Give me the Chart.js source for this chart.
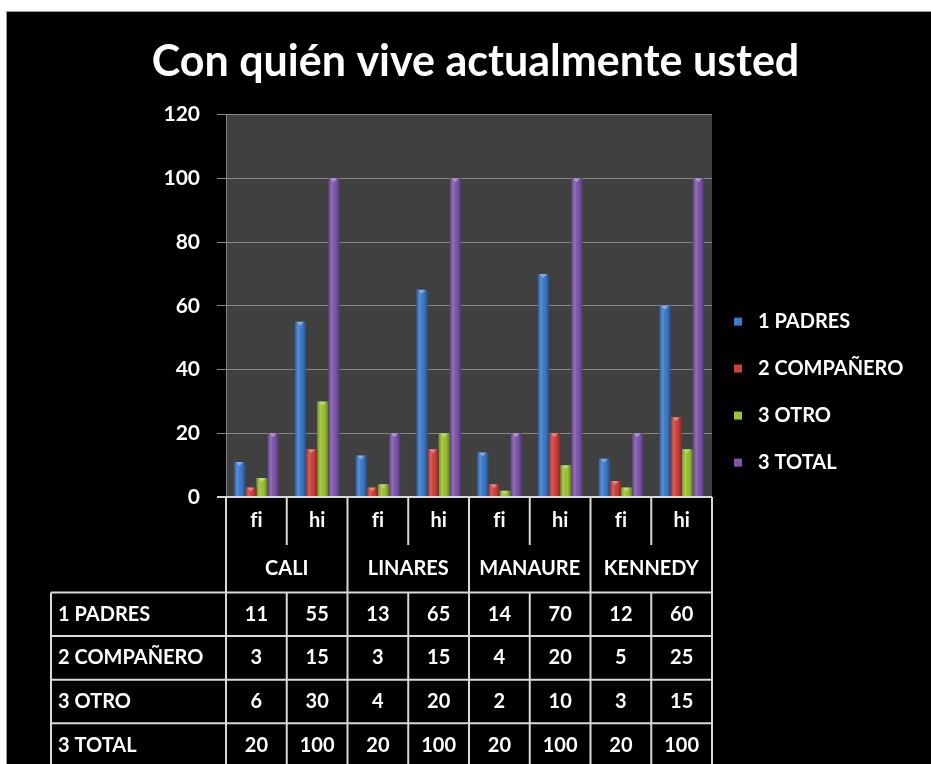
<!DOCTYPE html>
<html>
<head>
<meta charset="utf-8">
<title>Con quién vive actualmente usted</title>
<script src="https://cdn.jsdelivr.net/npm/chart.js@4.4.1/dist/chart.umd.min.js"></script>
<style>
  html, body { margin: 0; padding: 0; background: #fff; }
  #wrap {
    position: absolute; left: 6px; top: 11px;
    width: 924px; height: 752px;
    background: #000;
    border-left: 1px solid #9a9a9a; border-top: 1px solid #9a9a9a;
  }
</style>
</head>
<body>
<div id="wrap"><canvas id="chart" width="924" height="752"></canvas></div>
<script>
const subLabels = ["fi", "hi", "fi", "hi", "fi", "hi", "fi", "hi"];
const groups = ["CALI", "LINARES", "MANAURE", "KENNEDY"];
const seriesNames = ["1 PADRES", "2 COMPAÑERO", "3 OTRO", "3 TOTAL"];

const padres = [11, 55, 13, 65, 14, 70, 12, 60];
const companero = [3, 15, 3, 15, 4, 20, 5, 25];
const otro = [6, 30, 4, 20, 2, 10, 3, 15];
const total = [20, 100, 20, 100, 20, 100, 20, 100];

const colors = ["#3b7bcc", "#d0403b", "#9cc232", "#7e56ac"];
const FONT = "Lato";

// no "fi" ligature, Excel does not use one
function plainText(ctx) {
  ctx.textRendering = "optimizeSpeed";
  ctx.fontVariantLigatures = "none";
}

// dark grey plot area behind the grid
const plotBg = {
  id: "plotBg",
  beforeDraw(chart) {
    const { ctx, chartArea: a } = chart;
    ctx.save();
    ctx.fillStyle = "#404040";
    ctx.fillRect(a.left, a.top, a.right - a.left, a.bottom - a.top);
    ctx.restore();
  },
};

// cylinder-ish shading on top of every bar
const barShade = {
  id: "barShade",
  afterDatasetsDraw(chart) {
    const ctx = chart.ctx;
    chart.data.datasets.forEach((ds, di) => {
      chart.getDatasetMeta(di).data.forEach((bar) => {
        const p = bar.getProps(["x", "y", "base", "width"], true);
        const l = p.x - p.width / 2;
        const r = p.x + p.width / 2;
        const g = ctx.createLinearGradient(l, 0, r, 0);
        g.addColorStop(0, "rgba(0,0,0,0.3)");
        g.addColorStop(0.35, "rgba(255,255,255,0.15)");
        g.addColorStop(0.65, "rgba(0,0,0,0)");
        g.addColorStop(1, "rgba(0,0,0,0.35)");
        ctx.save();
        ctx.fillStyle = g;
        ctx.fillRect(l, p.y, p.width, p.base - p.y);
        ctx.fillStyle = "rgba(255,255,255,0.35)";
        ctx.beginPath();
        ctx.moveTo(l + 2, p.y);
        ctx.lineTo(r - 2, p.y);
        ctx.lineTo(p.x, p.y + 4);
        ctx.closePath();
        ctx.fill();
        ctx.restore();
      });
    });
  },
};

// legend on the right, like the Excel one
const sideLegend = {
  id: "sideLegend",
  afterDraw(chart) {
    const { ctx, chartArea: a } = chart;
    ctx.save();
    plainText(ctx);
    ctx.font = "bold 20px " + FONT;
    ctx.textBaseline = "middle";
    ctx.textAlign = "left";
    chart.data.datasets.forEach((ds, i) => {
      const cy = a.top + 207 + i * 47;
      ctx.fillStyle = ds.backgroundColor;
      ctx.fillRect(a.right + 22, cy - 4, 8, 8);
      ctx.fillStyle = "#fff";
      ctx.fillText(ds.label, a.right + 46, cy);
    });
    ctx.restore();
  },
};

// data table under the plot
const dataTable = {
  id: "dataTable",
  afterDraw(chart) {
    const { ctx, chartArea: a } = chart;
    const x = chart.scales.x;
    const n = subLabels.length;
    const colW = (a.right - a.left) / n;
    const edge = (i) => x.getPixelForValue(i) - colW / 2;
    const bottom = chart.height;
    const h1 = a.bottom + 48;
    const h2 = h1 + 47.5;
    const rowH = 43.6;
    const labelLeft = 44;
    const rows = [padres, companero, otro, total];

    ctx.save();
    ctx.strokeStyle = "#d9d9d9";
    ctx.lineWidth = 2;
    const line = (x1, y1, x2, y2) => {
      ctx.beginPath();
      ctx.moveTo(x1, y1);
      ctx.lineTo(x2, y2);
      ctx.stroke();
    };
    line(a.left - 9, a.bottom, a.right, a.bottom);
    line(a.left, a.bottom, a.left, bottom);
    line(a.right, a.bottom, a.right, bottom);
    for (let i = 1; i < n; i++) {
      const xi = edge(i);
      if (i % 2 === 0) {
        line(xi, a.bottom, xi, bottom);
      } else {
        line(xi, a.bottom, xi, h1);
        line(xi, h2, xi, bottom);
      }
    }
    line(labelLeft, h2, labelLeft, bottom);
    for (let r = 0; r < rows.length; r++) {
      line(labelLeft, h2 + r * rowH, a.right, h2 + r * rowH);
    }

    plainText(ctx);
    ctx.fillStyle = "#fff";
    ctx.font = "bold 20px " + FONT;
    ctx.textBaseline = "middle";
    ctx.textAlign = "center";
    subLabels.forEach((s, i) => ctx.fillText(s, x.getPixelForValue(i), (a.bottom + h1) / 2));
    groups.forEach((g, k) => ctx.fillText(g, edge(2 * k + 1), (h1 + h2) / 2));
    rows.forEach((vals, r) => {
      const cy = h2 + r * rowH + rowH / 2;
      ctx.textAlign = "center";
      vals.forEach((v, i) => ctx.fillText(String(v), x.getPixelForValue(i), cy));
      ctx.textAlign = "left";
      ctx.fillText(seriesNames[r], labelLeft + 7, cy);
    });
    ctx.restore();
  },
};

const series = [padres, companero, otro, total];

new Chart(document.getElementById("chart"), {
  type: "bar",
  data: {
    labels: subLabels,
    datasets: series.map((vals, i) => ({
      label: seriesNames[i],
      data: vals,
      backgroundColor: colors[i],
      borderWidth: 0,
      categoryPercentage: 0.734,
      barPercentage: 1,
    })),
  },
  options: {
    responsive: false,
    animation: false,
    layout: { padding: { left: 13, right: 0, top: 0, bottom: 0 } },
    plugins: {
      legend: { display: false },
      tooltip: { enabled: false },
      title: {
        display: true,
        text: "Con quién vive actualmente usted",
        color: "#fff",
        font: { family: FONT, size: 43, weight: "bold" },
        padding: { top: 24, bottom: 27 },
      },
    },
    scales: {
      x: {
        ticks: { display: false },
        grid: { display: false },
        border: { display: false },
        afterFit(s) { s.height = 267; },
      },
      y: {
        min: 0,
        max: 120,
        ticks: { stepSize: 20, color: "#fff", padding: 17, font: { family: FONT, size: 21, weight: "bold" } },
        grid: { color: "#858585", tickColor: "#858585", tickLength: 9 },
        border: { color: "#858585" },
        afterFit(s) { s.width = 206; },
      },
      y2: {
        position: "right",
        ticks: { display: false },
        grid: { display: false },
        border: { display: false },
        afterFit(s) { s.width = 219; },
      },
    },
  },
  plugins: [plotBg, barShade, sideLegend, dataTable],
});
</script>
</body>
</html>
